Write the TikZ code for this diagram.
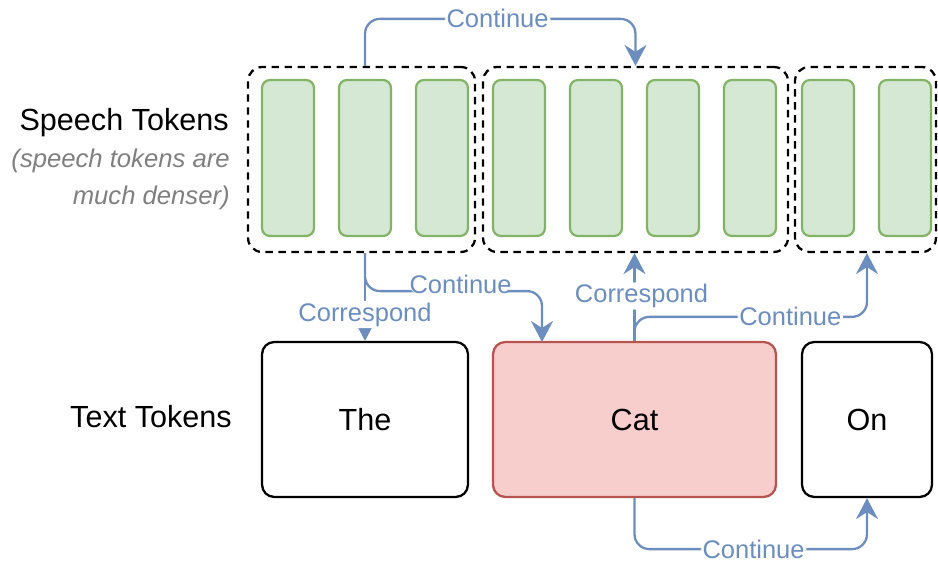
\documentclass[tikz,border=0pt]{standalone}
\usepackage{fontspec}
\setmainfont{Liberation Sans}
\usetikzlibrary{arrows.meta, positioning}

\definecolor{tokfill}{HTML}{D5E8D4}
\definecolor{tokdraw}{HTML}{82B366}
\definecolor{catfill}{HTML}{F8CECC}
\definecolor{catdraw}{HTML}{B85450}
\definecolor{flowc}{HTML}{6C8EBF}
\definecolor{notec}{HTML}{7F7F7F}

\begin{document}
\begin{tikzpicture}[x=0.02cm, y=-0.02cm,
    tok/.style={draw=tokdraw, fill=tokfill, line width=1.25pt, rounded corners=4.5pt,
        minimum width=1.04cm, minimum height=3.12cm, inner sep=0pt},
    group/.style={draw=black, line width=1.3pt, dash pattern=on 4.2pt off 3.2pt,
        rounded corners=8pt, minimum height=3.7cm, inner sep=0pt},
    word/.style={draw=black, line width=1.3pt, rounded corners=7pt,
        minimum height=3.1cm, inner sep=0pt, font=\fontsize{17.4}{20}\selectfont},
    flow/.style={draw=flowc, line width=1.3pt, rounded corners=8.5pt,
        -{Stealth[length=0.42cm, width=0.44cm, inset=0.14cm]}},
    lab/.style={fill=white, inner sep=1pt, text=flowc, font=\fontsize{14.5}{16}\selectfont},
    big/.style={anchor=east, inner sep=0pt, font=\fontsize{17.4}{20}\selectfont},
    note/.style={anchor=east, inner sep=0pt, text=notec, font=\fontsize{14.6}{16}\selectfont\itshape}]

    \useasboundingbox (0,0) rectangle (938,563);

    % dashed groups of speech tokens
    \node[group, minimum width=4.54cm] (g1) at (361.5,159.5) {};
    \node[group, minimum width=6.1cm] (g2) at (635.5,159.5) {};
    \node[group, minimum width=2.82cm] (g3) at (865.5,159.5) {};

    % speech tokens
    \foreach \i/\x in {1/288,2/365,3/442,4/519,5/596,6/673,7/750,8/828,9/905}
        \node[tok] (t\i) at (\x,158) {};

    % text tokens
    \node[word, minimum width=4.12cm] (The) at (365,419.5) {The};
    \node[word, minimum width=5.66cm, draw=catdraw, fill=catfill] (Cat) at (634.5,419.5) {Cat};
    \node[word, minimum width=2.6cm] (On) at (867,419.5) {On};

    % row titles
    \node[big] (speech) at (229,123) {Speech Tokens};
    \node[note] (dense1) at (230,161) {(speech tokens are};
    \node[note] (dense2) at (230,198) {much denser)};
    \node[big] (text) at (232,417) {Text Tokens};

    \coordinate (catin) at (542,342);

    % connectors
    \draw[flow] (t2 |- g1.north) -- ++(0,-47) -| node[lab, pos=0.245] {Continue} (g2.north);
    \draw[flow] (t2 |- g1.south) -- node[lab, pos=0.7] {Correspond} (The.north);
    \draw[flow] (t2 |- g1.south) -- ++(0,38) -| node[lab, pos=0.27, yshift=0.14cm] {Continue} (catin);
    \draw[flow] (Cat.north) -- node[lab, pos=0.51, xshift=0.14cm] {Correspond} (Cat.north |- g2.south);
    \draw[flow] (Cat.north) -- ++(0,-24) -| node[lab, pos=0.335] {Continue} (On.north |- g3.south);
    \draw[flow] (Cat.south) -- ++(0,51) -| node[lab, pos=0.256] {Continue} (On.south);

\end{tikzpicture}
\end{document}
